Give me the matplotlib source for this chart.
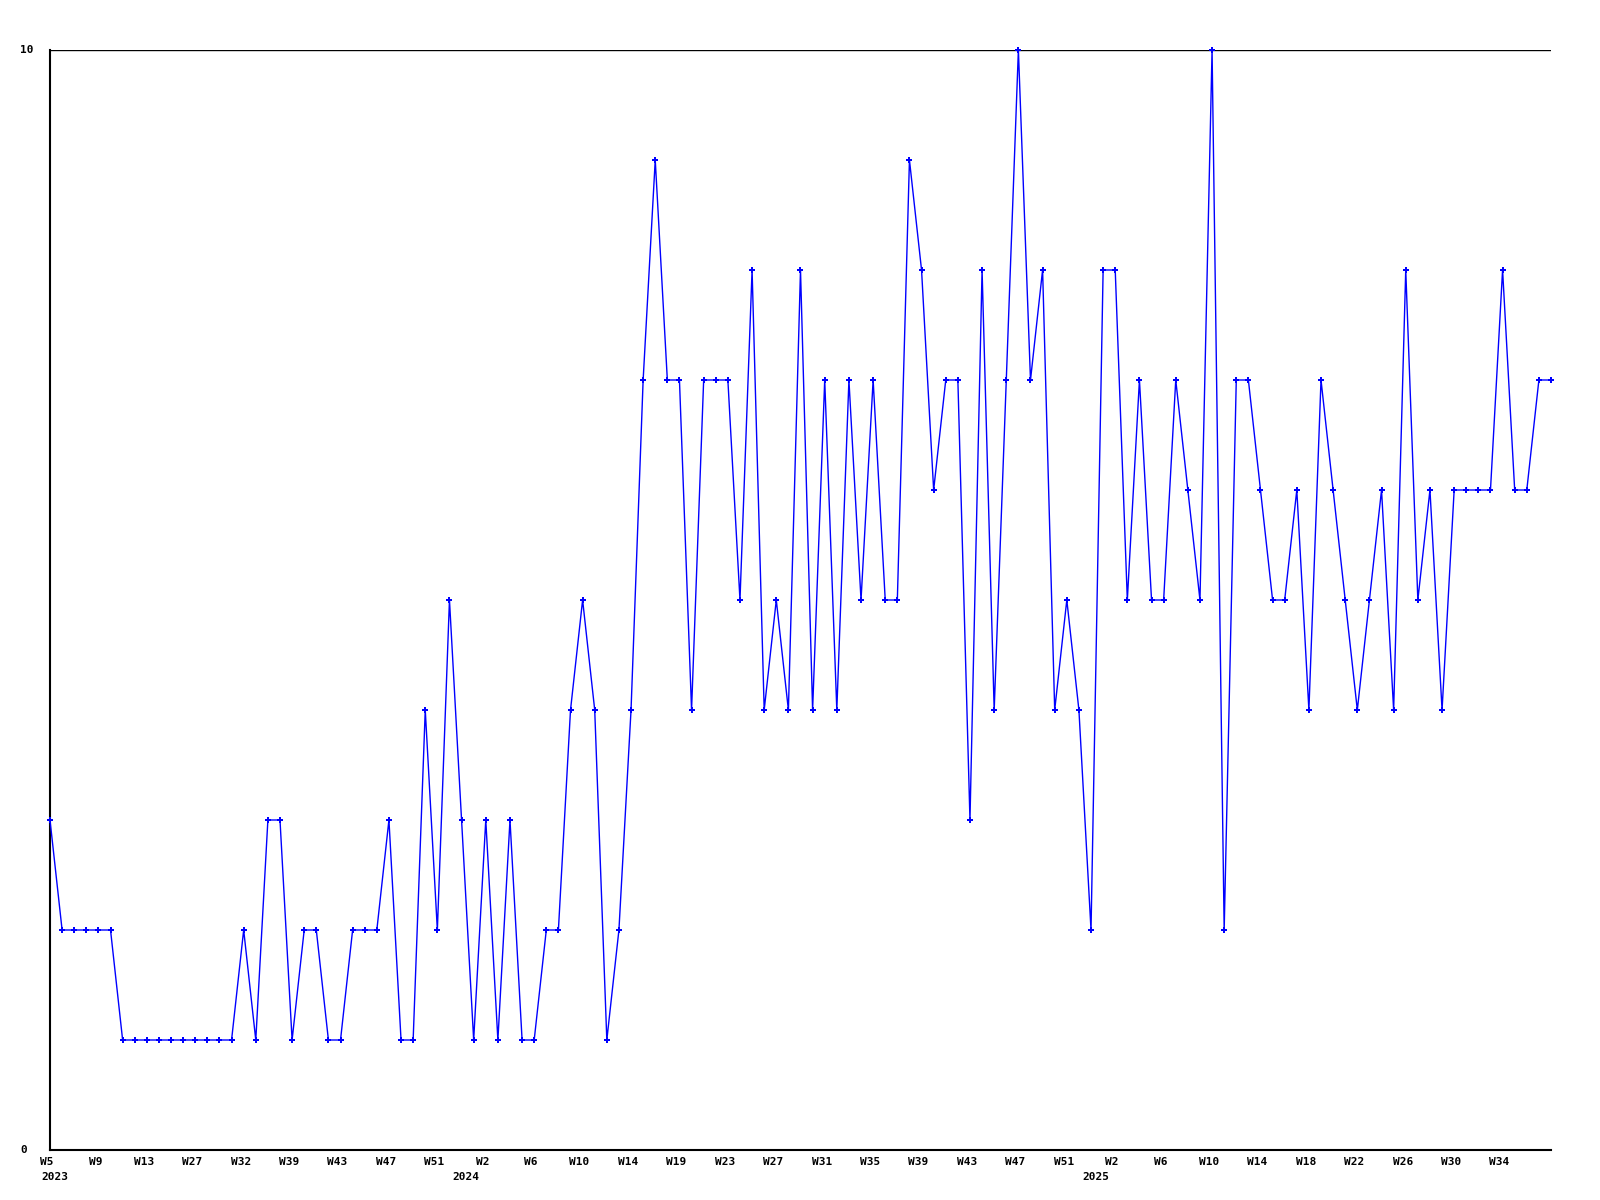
import matplotlib
matplotlib.use('Agg')
import matplotlib.pyplot as plt
from matplotlib.transforms import offset_copy

values = [3, 2, 2, 2, 2, 2, 1, 1, 1, 1, 1, 1, 1, 1, 1, 1, 2, 1, 3, 3,
          1, 2, 2, 1, 1, 2, 2, 2, 3, 1, 1, 4, 2, 5, 3, 1, 3, 1, 3, 1,
          1, 2, 2, 4, 5, 4, 1, 2, 4, 7, 9, 7, 7, 4, 7, 7, 7, 5, 8, 4,
          5, 4, 8, 4, 7, 4, 7, 5, 7, 5, 5, 9, 8, 6, 7, 7, 3, 8, 4, 7,
          10, 7, 8, 4, 5, 4, 2, 8, 8, 5, 7, 5, 5, 7, 6, 5, 10, 2, 7, 7,
          6, 5, 5, 6, 4, 7, 6, 5, 4, 5, 6, 4, 8, 5, 6, 4, 6, 6, 6, 6,
          8, 6, 6, 7, 7]

week_labels = ['W5', 'W9', 'W13', 'W27', 'W32', 'W39', 'W43', 'W47', 'W51',
               'W2', 'W6', 'W10', 'W14', 'W19', 'W23', 'W27', 'W31', 'W35',
               'W39', 'W43', 'W47', 'W51', 'W2', 'W6', 'W10', 'W14', 'W18',
               'W22', 'W26', 'W30', 'W34']
week_pos = [i * 4 for i in range(len(week_labels))]

years = ['2023', '2024', '2025']
year_pos = [0, 34, 86]

fig = plt.figure(figsize=(16, 12), dpi=100)
ax = fig.add_axes([50 / 1600, 50 / 1200, 1501 / 1600, 1100 / 1200])

x = list(range(len(values)))
ax.plot(x, values, color='#0000ff', linewidth=1.0, marker='P',
        markersize=4, markeredgewidth=0, clip_on=False, zorder=3)

ax.set_xlim(0, len(values) - 1)
ax.set_ylim(0, 10)
ax.axhline(10, color='black', linewidth=1.0, zorder=2)

for s in ['top', 'right']:
    ax.spines[s].set_visible(False)
for s in ['left', 'bottom']:
    ax.spines[s].set_linewidth(1.5)

font = dict(family='DejaVu Sans Mono', fontweight='bold', fontsize=8)

ax.set_yticks([0, 10])
ax.set_yticklabels([])
ax.tick_params(axis='both', length=0)
ax.set_xticks(week_pos)
ax.set_xticklabels([])

# week labels, slightly left of the tick like the reference
wk_tr = offset_copy(ax.get_xaxis_transform(), fig=fig, x=-3, y=-12, units='dots')
for lab, p in zip(week_labels, week_pos):
    ax.text(p, 0, lab, transform=wk_tr, ha='center', va='center', **font)

y_tr = offset_copy(ax.get_yaxis_transform(), fig=fig, x=-30, y=0, units='dots')
for v in [0, 10]:
    ax.text(0, v, str(v), transform=y_tr, ha='left', va='center', **font)

year_tr = offset_copy(ax.get_xaxis_transform(), fig=fig, x=-9, y=-27, units='dots')
for yl, p in zip(years, year_pos):
    ax.text(p, 0, yl, transform=year_tr, ha='left', va='center', **font)

fig.savefig('out.png', dpi=100)
